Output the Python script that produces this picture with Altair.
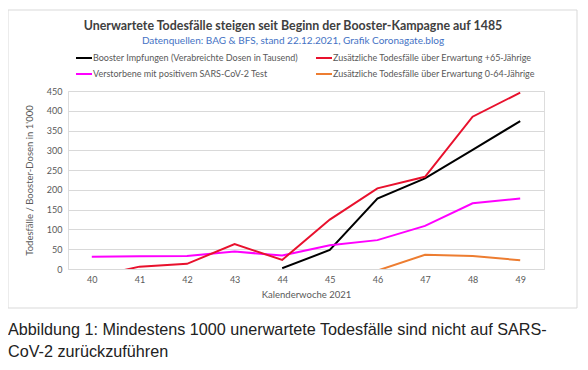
import altair as alt
import pandas as pd

weeks = [40, 41, 42, 43, 44, 45, 46, 47, 48, 49]
booster = [None, None, None, None, 2, 48, 178, 229, 301, 374]
excess_65 = [-21, 6, 13, 63, 23, 125, 204, 233, 385, 446]
sars_deaths = [31, 32, 33, 44, 34, 60, 73, 109, 166, 178]
excess_0_64 = [None, None, None, None, None, None, -4, 36, 33, 22]

series_names = [
    "Booster Impfungen (Verabreichte Dosen in Tausend)",
    "Verstorbene mit positivem SARS-CoV-2 Test",
    "Zusätzliche Todesfälle über Erwartung +65-Jährige",
    "Zusätzliche Todesfälle über Erwartung 0-64-Jährige",
]
series_values = [booster, sars_deaths, excess_65, excess_0_64]
series_colors = ["#000000", "#FF00FF", "#E8112D", "#ED7D31"]
y_ticks = [0, 50, 100, 150, 200, 250, 300, 350, 400, 450]

title_text = "Unerwartete Todesfälle steigen seit Beginn der Booster-Kampagne auf 1485"
subtitle_text = "Datenquellen: BAG & BFS, stand 22.12.2021, Grafik Coronagate.blog"
caption_text = ("Abbildung 1: Mindestens 1000 unerwartete Todesfälle sind nicht auf SARS-\n"
                "CoV-2 zurückzuführen")

rows = []
for name, vals in zip(series_names, series_values):
    for w, v in zip(weeks, vals):
        if v is not None:
            rows.append({"week": w, "value": v, "series": name})
df = pd.DataFrame(rows)

FONT = "Lato"
GRAY = "#595959"

frame = alt.Chart(pd.DataFrame({"a": [0]})).mark_rect(
    filled=False, stroke="#D9D9D9", strokeWidth=1
).encode(
    x=alt.value(-60), x2=alt.value(509), y=alt.value(-81), y2=alt.value(217)
)

lines = alt.Chart(df).mark_line(strokeWidth=2, clip=True).encode(
    x=alt.X(
        "week:O",
        scale=alt.Scale(type="point", padding=0.5),
        axis=alt.Axis(
            title="Kalenderwoche 2021", labelAngle=0, ticks=False, domain=False,
            grid=False, labelPadding=6, titlePadding=5,
            labelColor=GRAY, titleColor=GRAY, labelFontSize=9, titleFontSize=9.5,
            titleFontWeight="normal", labelFont=FONT, titleFont=FONT,
        ),
    ),
    y=alt.Y(
        "value:Q",
        scale=alt.Scale(domain=[0, 450], nice=False),
        axis=alt.Axis(
            title="Todesfälle / Booster-Dosen in 1'000", values=y_ticks,
            ticks=False, domain=False, grid=True, gridColor="#D9D9D9",
            labelPadding=6, titlePadding=12,
            labelColor=GRAY, titleColor=GRAY, labelFontSize=9, titleFontSize=9.5,
            titleFontWeight="normal", labelFont=FONT, titleFont=FONT,
        ),
    ),
    color=alt.Color(
        "series:N",
        scale=alt.Scale(domain=series_names, range=series_colors),
        legend=alt.Legend(
            title=None, orient="none", legendX=7, legendY=-42, columns=2,
            symbolType="stroke", symbolStrokeWidth=2, symbolSize=256,
            labelFontSize=9, labelFont=FONT, labelColor=GRAY, labelLimit=0,
            columnPadding=13, rowPadding=2, labelOffset=0,
        ),
    ),
)

caption = alt.Chart(pd.DataFrame({"a": [0]})).mark_text(
    align="left", baseline="top", lineBreak="\n", lineHeight=22,
    fontSize=16.2, font="Liberation Sans", color="#222222"
).encode(x=alt.value(-60), y=alt.value(231), text=alt.value(caption_text))

chart = alt.layer(frame, lines, caption).properties(
    width=476, height=178,
    padding={"left": 60, "top": 83, "right": 36, "bottom": 93},
    autosize=alt.AutoSizeParams(type="none"),
    title=alt.TitleParams(
        text=title_text, subtitle=subtitle_text, anchor="middle", dx=-13,
        frame="group",
        font=FONT, fontSize=12.4, fontWeight="bold", color="#404040",
        subtitleFont=FONT, subtitleFontSize=10, subtitleColor="#4472C4",
        subtitlePadding=3, offset=-36,
    ),
).configure_view(stroke=None).configure(background="white")

chart.save("out.html", embed_options={"renderer": "svg", "actions": False})
